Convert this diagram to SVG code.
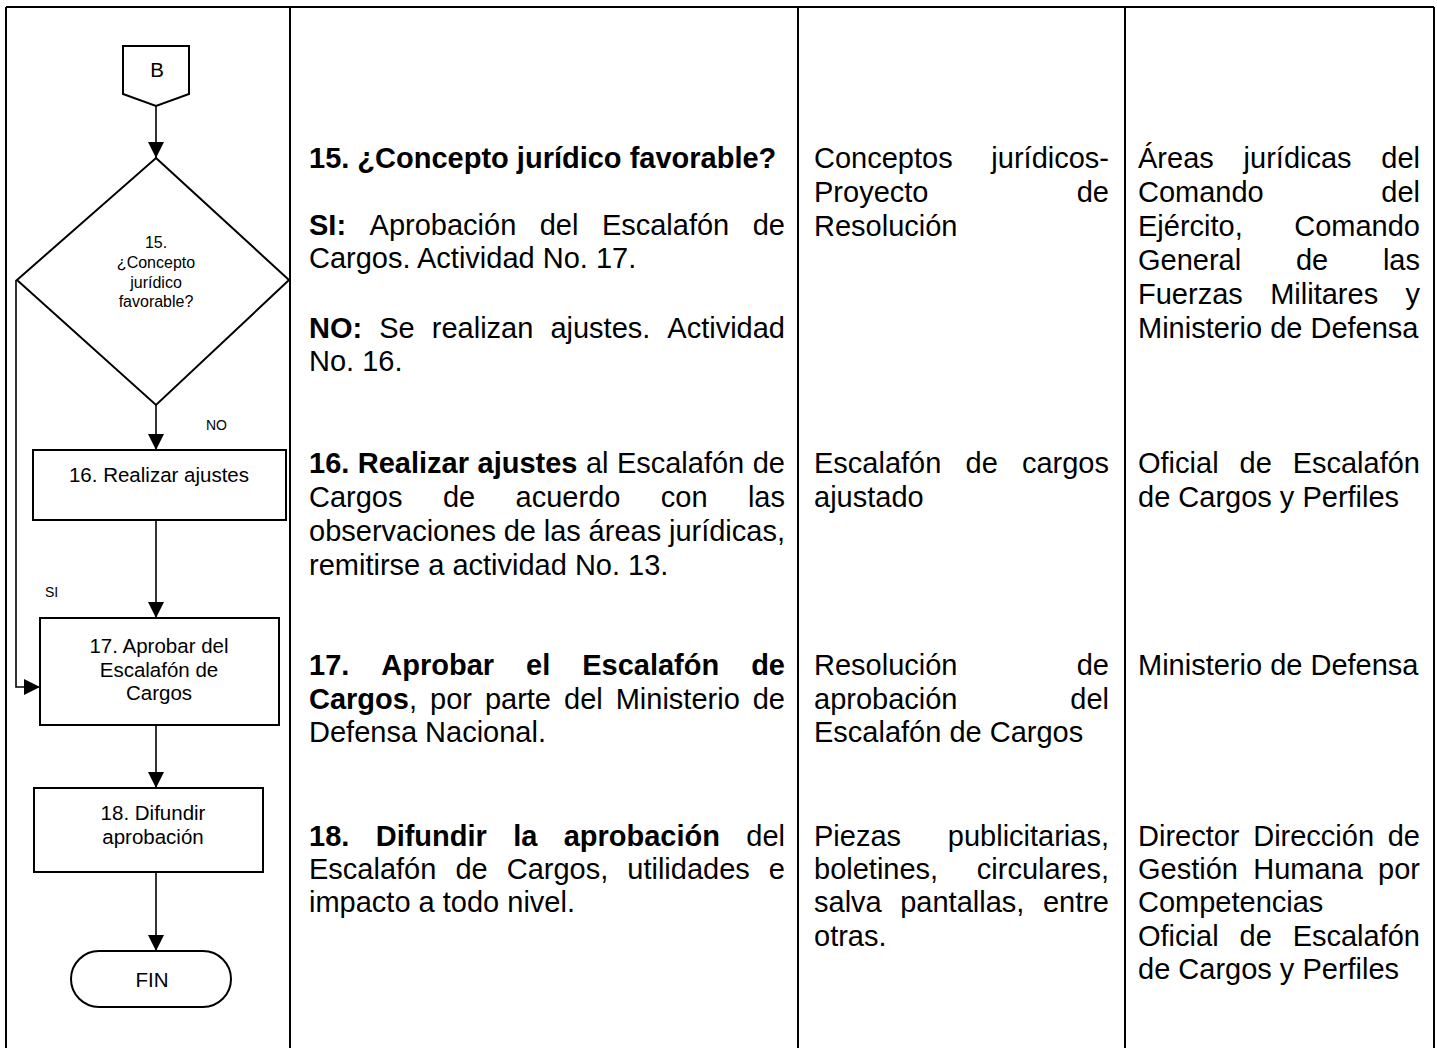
<svg xmlns="http://www.w3.org/2000/svg" width="1437" height="1048" viewBox="0 0 1437 1048">
<defs>
<style>
.t{font-family:"Liberation Sans",Arial,sans-serif;font-size:29px;fill:#000}
.b{font-weight:bold}
.f{font-family:"Liberation Sans",Arial,sans-serif;font-size:20.5px;fill:#000;text-anchor:middle}
.fd{font-family:"Liberation Sans",Arial,sans-serif;font-size:16px;fill:#000;text-anchor:middle}
.fl{font-family:"Liberation Sans",Arial,sans-serif;font-size:14px;fill:#000}
.e{text-anchor:end}
.grid{stroke:#000;stroke-width:2;fill:none}
.shape{stroke:#000;stroke-width:2;fill:#fff}
.conn{stroke:#000;stroke-width:1.6;fill:none;marker-end:url(#arr)}
</style>
<marker id="arr" viewBox="0 0 16 16" refX="16" refY="8" markerWidth="16" markerHeight="16" markerUnits="userSpaceOnUse" orient="auto">
<path d="M0,0 L16,8 L0,16 z" fill="#000"/>
</marker>
</defs>
<rect width="1437" height="1048" fill="#fff"/>
<g id="table" class="grid">
<line x1="6" y1="7" x2="1434" y2="7"/>
<line x1="6" y1="7" x2="6" y2="1048"/>
<line x1="290" y1="7" x2="290" y2="1048"/>
<line x1="798" y1="7" x2="798" y2="1048"/>
<line x1="1125" y1="7" x2="1125" y2="1048"/>
<line x1="1434" y1="7" x2="1434" y2="1048"/>
</g>
<g id="connectors">
<line class="conn" x1="156" y1="106" x2="156" y2="158"/>
<line class="conn" x1="156" y1="405" x2="156" y2="450"/>
<line class="conn" x1="156" y1="520" x2="156" y2="618"/>
<polyline class="conn" points="16,280 16,687 40,687"/>
<line class="conn" x1="156" y1="725" x2="156" y2="788"/>
<line class="conn" x1="156" y1="872" x2="156" y2="951"/>
<text class="fl" x="206" y="430">NO</text>
<text class="fl" x="45" y="597">SI</text>
</g>
<g id="nodeB">
<polygon class="shape" points="123,46 189,46 189,94 156,106 123,94"/>
<text class="f" x="157" y="77">B</text>
</g>
<g id="node15">
<polygon class="shape" points="156,158 289,280 156,405 17,280"/>
<text class="fd" x="156" y="248">15.</text>
<text class="fd" x="156" y="268">¿Concepto</text>
<text class="fd" x="156" y="288">jurídico</text>
<text class="fd" x="156" y="307">favorable?</text>
</g>
<g id="node16">
<rect class="shape" x="33" y="450" width="253" height="70"/>
<text class="f" x="159" y="482">16. Realizar ajustes</text>
</g>
<g id="node17">
<rect class="shape" x="40" y="618" width="239" height="107"/>
<text class="f" x="159" y="653">17. Aprobar del</text>
<text class="f" x="159" y="677">Escalafón de</text>
<text class="f" x="159" y="700">Cargos</text>
</g>
<g id="node18">
<rect class="shape" x="34" y="788" width="229" height="84"/>
<text class="f" x="153" y="820">18. Difundir</text>
<text class="f" x="153" y="844">aprobación</text>
</g>
<g id="nodeFIN">
<rect class="shape" x="71" y="951" width="160" height="56" rx="28" ry="28"/>
<text class="f" x="152" y="987">FIN</text>
</g>
<g id="col2">
<text class="t b" x="309" y="168">15. ¿Concepto jurídico favorable?</text>
<text class="t"><tspan class="b" x="309" y="235">SI:</tspan><tspan x="369.6" y="235">Aprobación</tspan><tspan x="539.7" y="235">del</tspan><tspan x="601.9" y="235">Escalafón</tspan></text>
<text class="t e" x="785" y="235">de</text>
<text class="t" x="309" y="268">Cargos. Actividad No. 17.</text>
<text class="t"><tspan class="b" x="309" y="338">NO:</tspan><tspan x="379.2" y="338">Se</tspan><tspan x="431.8" y="338">realizan</tspan><tspan x="550.4" y="338">ajustes.</tspan></text>
<text class="t e" x="785" y="338">Actividad</text>
<text class="t" x="309" y="371">No. 16.</text>

<text class="t"><tspan class="b" x="309" y="473">16.</tspan><tspan class="b" x="357.8" y="473">Realizar</tspan><tspan class="b" x="477.5" y="473">ajustes</tspan><tspan x="585.9" y="473">al</tspan><tspan x="616.9" y="473">Escalafón</tspan></text>
<text class="t e" x="785" y="473">de</text>
<text class="t"><tspan x="309" y="507">Cargos</tspan><tspan x="442.9" y="507">de</tspan><tspan x="515.6" y="507">acuerdo</tspan><tspan x="660.8" y="507">con</tspan></text>
<text class="t e" x="785" y="507">las</text>
<text class="t"><tspan x="309" y="541">observaciones</tspan><tspan x="503.7" y="541">de</tspan><tspan x="543.7" y="541">las</tspan><tspan x="588.6" y="541">áreas</tspan></text>
<text class="t e" x="785" y="541">jurídicas,</text>
<text class="t" x="309" y="575">remitirse a actividad No. 13.</text>

<text class="t b"><tspan x="309" y="675">17.</tspan><tspan x="381.3" y="675">Aprobar</tspan><tspan x="526" y="675">el</tspan><tspan x="582.2" y="675">Escalafón</tspan></text>
<text class="t b e" x="785" y="675">de</text>
<text class="t"><tspan x="309" y="709"><tspan class="b">Cargos</tspan>,</tspan><tspan x="430" y="709">por</tspan><tspan x="484.9" y="709">parte</tspan><tspan x="564" y="709">del</tspan><tspan x="615.7" y="709">Ministerio</tspan></text>
<text class="t e" x="785" y="709">de</text>
<text class="t" x="309" y="742">Defensa Nacional.</text>

<text class="t b"><tspan x="309" y="846">18.</tspan><tspan x="375.7" y="846">Difundir</tspan><tspan x="513.2" y="846">la</tspan><tspan x="563.7" y="846">aprobación</tspan></text>
<text class="t e" x="785" y="846">del</text>
<text class="t"><tspan x="309" y="879">Escalafón</tspan><tspan x="455.4" y="879">de</tspan><tspan x="506.7" y="879">Cargos,</tspan><tspan x="627.3" y="879">utilidades</tspan></text>
<text class="t e" x="785" y="879">e</text>
<text class="t" x="309" y="912">impacto a todo nivel.</text>
</g>
<g id="col3">
<text class="t" x="814" y="168">Conceptos</text>
<text class="t e" x="1109" y="168">jurídicos-</text>
<text class="t" x="814" y="202">Proyecto</text>
<text class="t e" x="1109" y="202">de</text>
<text class="t" x="814" y="236">Resolución</text>

<text class="t"><tspan x="814" y="473">Escalafón</tspan><tspan x="965.5" y="473">de</tspan></text>
<text class="t e" x="1109" y="473">cargos</text>
<text class="t" x="814" y="507">ajustado</text>

<text class="t" x="814" y="675">Resolución</text>
<text class="t e" x="1109" y="675">de</text>
<text class="t" x="814" y="709">aprobación</text>
<text class="t e" x="1109" y="709">del</text>
<text class="t" x="814" y="742">Escalafón de Cargos</text>

<text class="t" x="814" y="846">Piezas</text>
<text class="t e" x="1109" y="846">publicitarias,</text>
<text class="t" x="814" y="879">boletines,</text>
<text class="t e" x="1109" y="879">circulares,</text>
<text class="t"><tspan x="814" y="912">salva</tspan><tspan x="900.2" y="912">pantallas,</tspan></text>
<text class="t e" x="1109" y="912">entre</text>
<text class="t" x="814" y="946">otras.</text>
</g>
<g id="col4">
<text class="t"><tspan x="1138" y="168">Áreas</tspan><tspan x="1243.6" y="168">jurídicas</tspan></text>
<text class="t e" x="1420" y="168">del</text>
<text class="t" x="1138" y="202">Comando</text>
<text class="t e" x="1420" y="202">del</text>
<text class="t" x="1138" y="236">Ejército,</text>
<text class="t e" x="1420" y="236">Comando</text>
<text class="t"><tspan x="1138" y="270">General</tspan><tspan x="1295.9" y="270">de</tspan></text>
<text class="t e" x="1420" y="270">las</text>
<text class="t"><tspan x="1138" y="304">Fuerzas</tspan><tspan x="1270.2" y="304">Militares</tspan></text>
<text class="t e" x="1420" y="304">y</text>
<text class="t" x="1138" y="338">Ministerio de Defensa</text>

<text class="t"><tspan x="1138" y="473">Oficial</tspan><tspan x="1239.5" y="473">de</tspan></text>
<text class="t e" x="1420" y="473">Escalafón</text>
<text class="t" x="1138" y="507">de Cargos y Perfiles</text>

<text class="t" x="1138" y="675">Ministerio de Defensa</text>

<text class="t"><tspan x="1138" y="846">Director</tspan><tspan x="1253.2" y="846">Dirección</tspan></text>
<text class="t e" x="1420" y="846">de</text>
<text class="t"><tspan x="1138" y="879">Gestión</tspan><tspan x="1253.2" y="879">Humana</tspan></text>
<text class="t e" x="1420" y="879">por</text>
<text class="t" x="1138" y="912">Competencias</text>
<text class="t"><tspan x="1138" y="946">Oficial</tspan><tspan x="1239.5" y="946">de</tspan></text>
<text class="t e" x="1420" y="946">Escalafón</text>
<text class="t" x="1138" y="979">de Cargos y Perfiles</text>
</g>
</svg>
